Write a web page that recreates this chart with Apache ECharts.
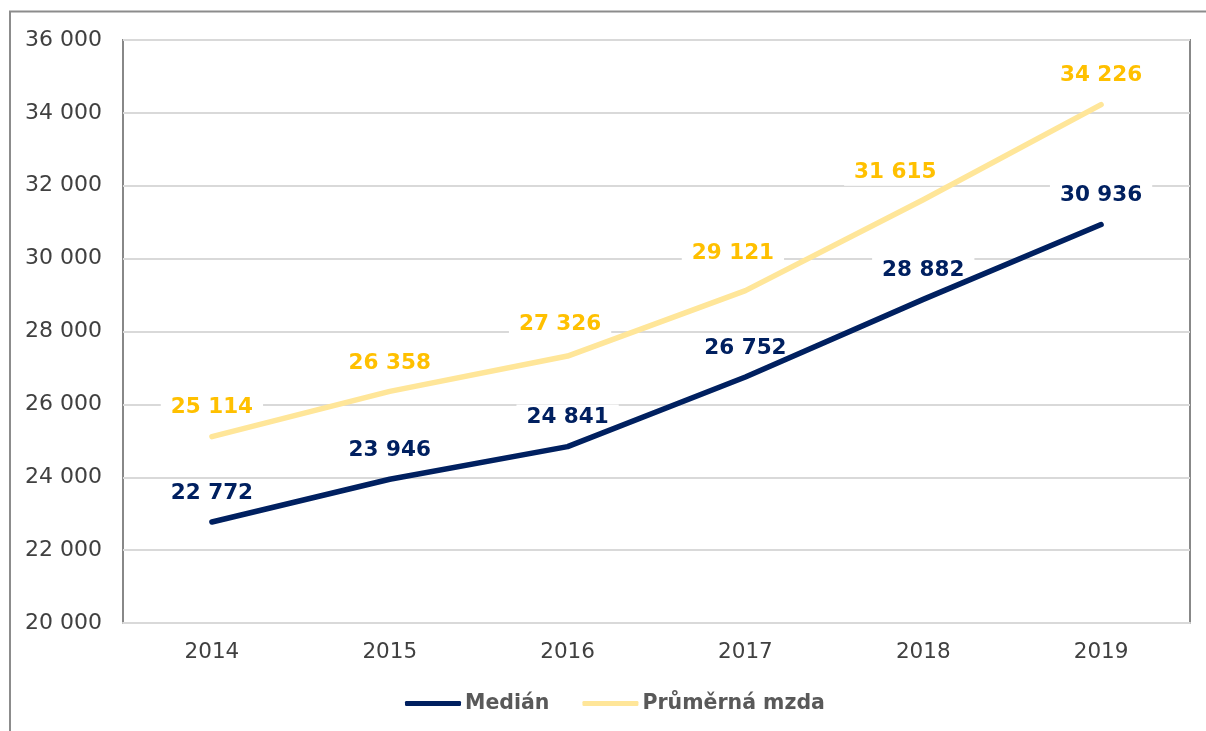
<!DOCTYPE html>
<html>
<head>
<meta charset="utf-8">
<script src="https://cdn.jsdelivr.net/npm/echarts@6/dist/echarts.min.js"></script>
<style>
html,body{margin:0;padding:0;background:#fff;}
#c{width:1206px;height:731px;}
</style>
</head>
<body>
<div id="c"></div>
<script>
const categories = ['2014', '2015', '2016', '2017', '2018', '2019'];
const median = [22772, 23946, 24841, 26752, 28882, 30936];
const prumerna = [25114, 26358, 27326, 29121, 31615, 34226];
const seriesNames = ['Medián', 'Průměrná mzda'];

// label nudges (style only), per point, in pixels
const medianLabelOffsets = [[0, 0], [0, 0], [0, 0], [0, 0], [0, 0], [0, 0]];
const prumernaLabelOffsets = [[0, 0], [0, 1], [-7.5, -3], [-12.5, -8], [-28, 2], [0, 0]];

const fmt = v => String(v).replace(/\B(?=(\d{3})+(?!\d))/g, ' ');
const FONT = '"DejaVu Sans", Verdana, sans-serif';

const chart = echarts.init(document.getElementById('c'));
function lbl(color) {
  return {
    show: true, position: 'top', distance: 16, opacity: 1,
    color: color, fontFamily: FONT, fontWeight: 'bold', fontSize: 21.5,
    backgroundColor: '#fff', padding: [1, 10], lineHeight: 24,
    formatter: p => fmt(p.value[1])
  };
}
function labelData(values, offsets) {
  return values.map((v, i) => ({ value: [categories[i], v], label: { offset: offsets[i] } }));
}
function labelSeries(name, values, offsets, color) {
  return {
    name: name, type: 'scatter', data: labelData(values, offsets),
    symbol: 'circle', symbolSize: 0.1, silent: true,
    itemStyle: { color: 'rgba(0,0,0,0)', opacity: 1 },
    emphasis: { disabled: true },
    label: lbl(color), z: 1
  };
}
chart.setOption({
  animation: false,
  backgroundColor: '#fff',
  graphic: [{
    type: 'rect', silent: true, z: -10,
    shape: { x: 10, y: 11.5, width: 1210, height: 800 },
    style: { fill: 'none', stroke: '#8c8c8c', lineWidth: 2 }
  }],
  grid: {
    left: 123, top: 40, right: 16, bottom: 108,
    show: true, borderColor: '#888', borderWidth: 2, backgroundColor: 'transparent'
  },
  legend: {
    bottom: 12, left: 400,
    itemWidth: 56, itemHeight: 5, itemGap: 33,
    icon: 'roundRect',
    textStyle: { fontFamily: FONT, fontWeight: 'bold', fontSize: 20.5, color: '#595959', padding: [0, 0, 0, -1] },
    data: seriesNames
  },
  xAxis: {
    type: 'category', data: categories, boundaryGap: true,
    axisLine: { show: true, lineStyle: { color: '#d9d9d9', width: 2 } },
    axisTick: { show: false },
    axisLabel: { margin: 18, fontFamily: FONT, fontSize: 21.5, color: '#404040' }
  },
  yAxis: {
    type: 'value', min: 20000, max: 36000, interval: 2000,
    axisLine: { show: false }, axisTick: { show: false },
    splitLine: { lineStyle: { color: '#d9d9d9', width: 2 } },
    axisLabel: { margin: 21, fontFamily: FONT, fontSize: 22, color: '#404040', formatter: v => fmt(v) }
  },
  series: [
    {
      name: seriesNames[0], type: 'line', data: median,
      symbol: 'none',
      lineStyle: { color: '#002060', width: 5.5, cap: 'round', join: 'round' },
      itemStyle: { color: '#002060' }, z: 4
    },
    {
      name: seriesNames[1], type: 'line', data: prumerna,
      symbol: 'none',
      lineStyle: { color: '#FFE699', width: 5.5, cap: 'round', join: 'round' },
      itemStyle: { color: '#FFE699' }, z: 3
    },
    labelSeries('lbl-median', median, medianLabelOffsets, '#002060'),
    labelSeries('lbl-prumerna', prumerna, prumernaLabelOffsets, '#FFC000')
  ]
});
</script>
</body>
</html>
